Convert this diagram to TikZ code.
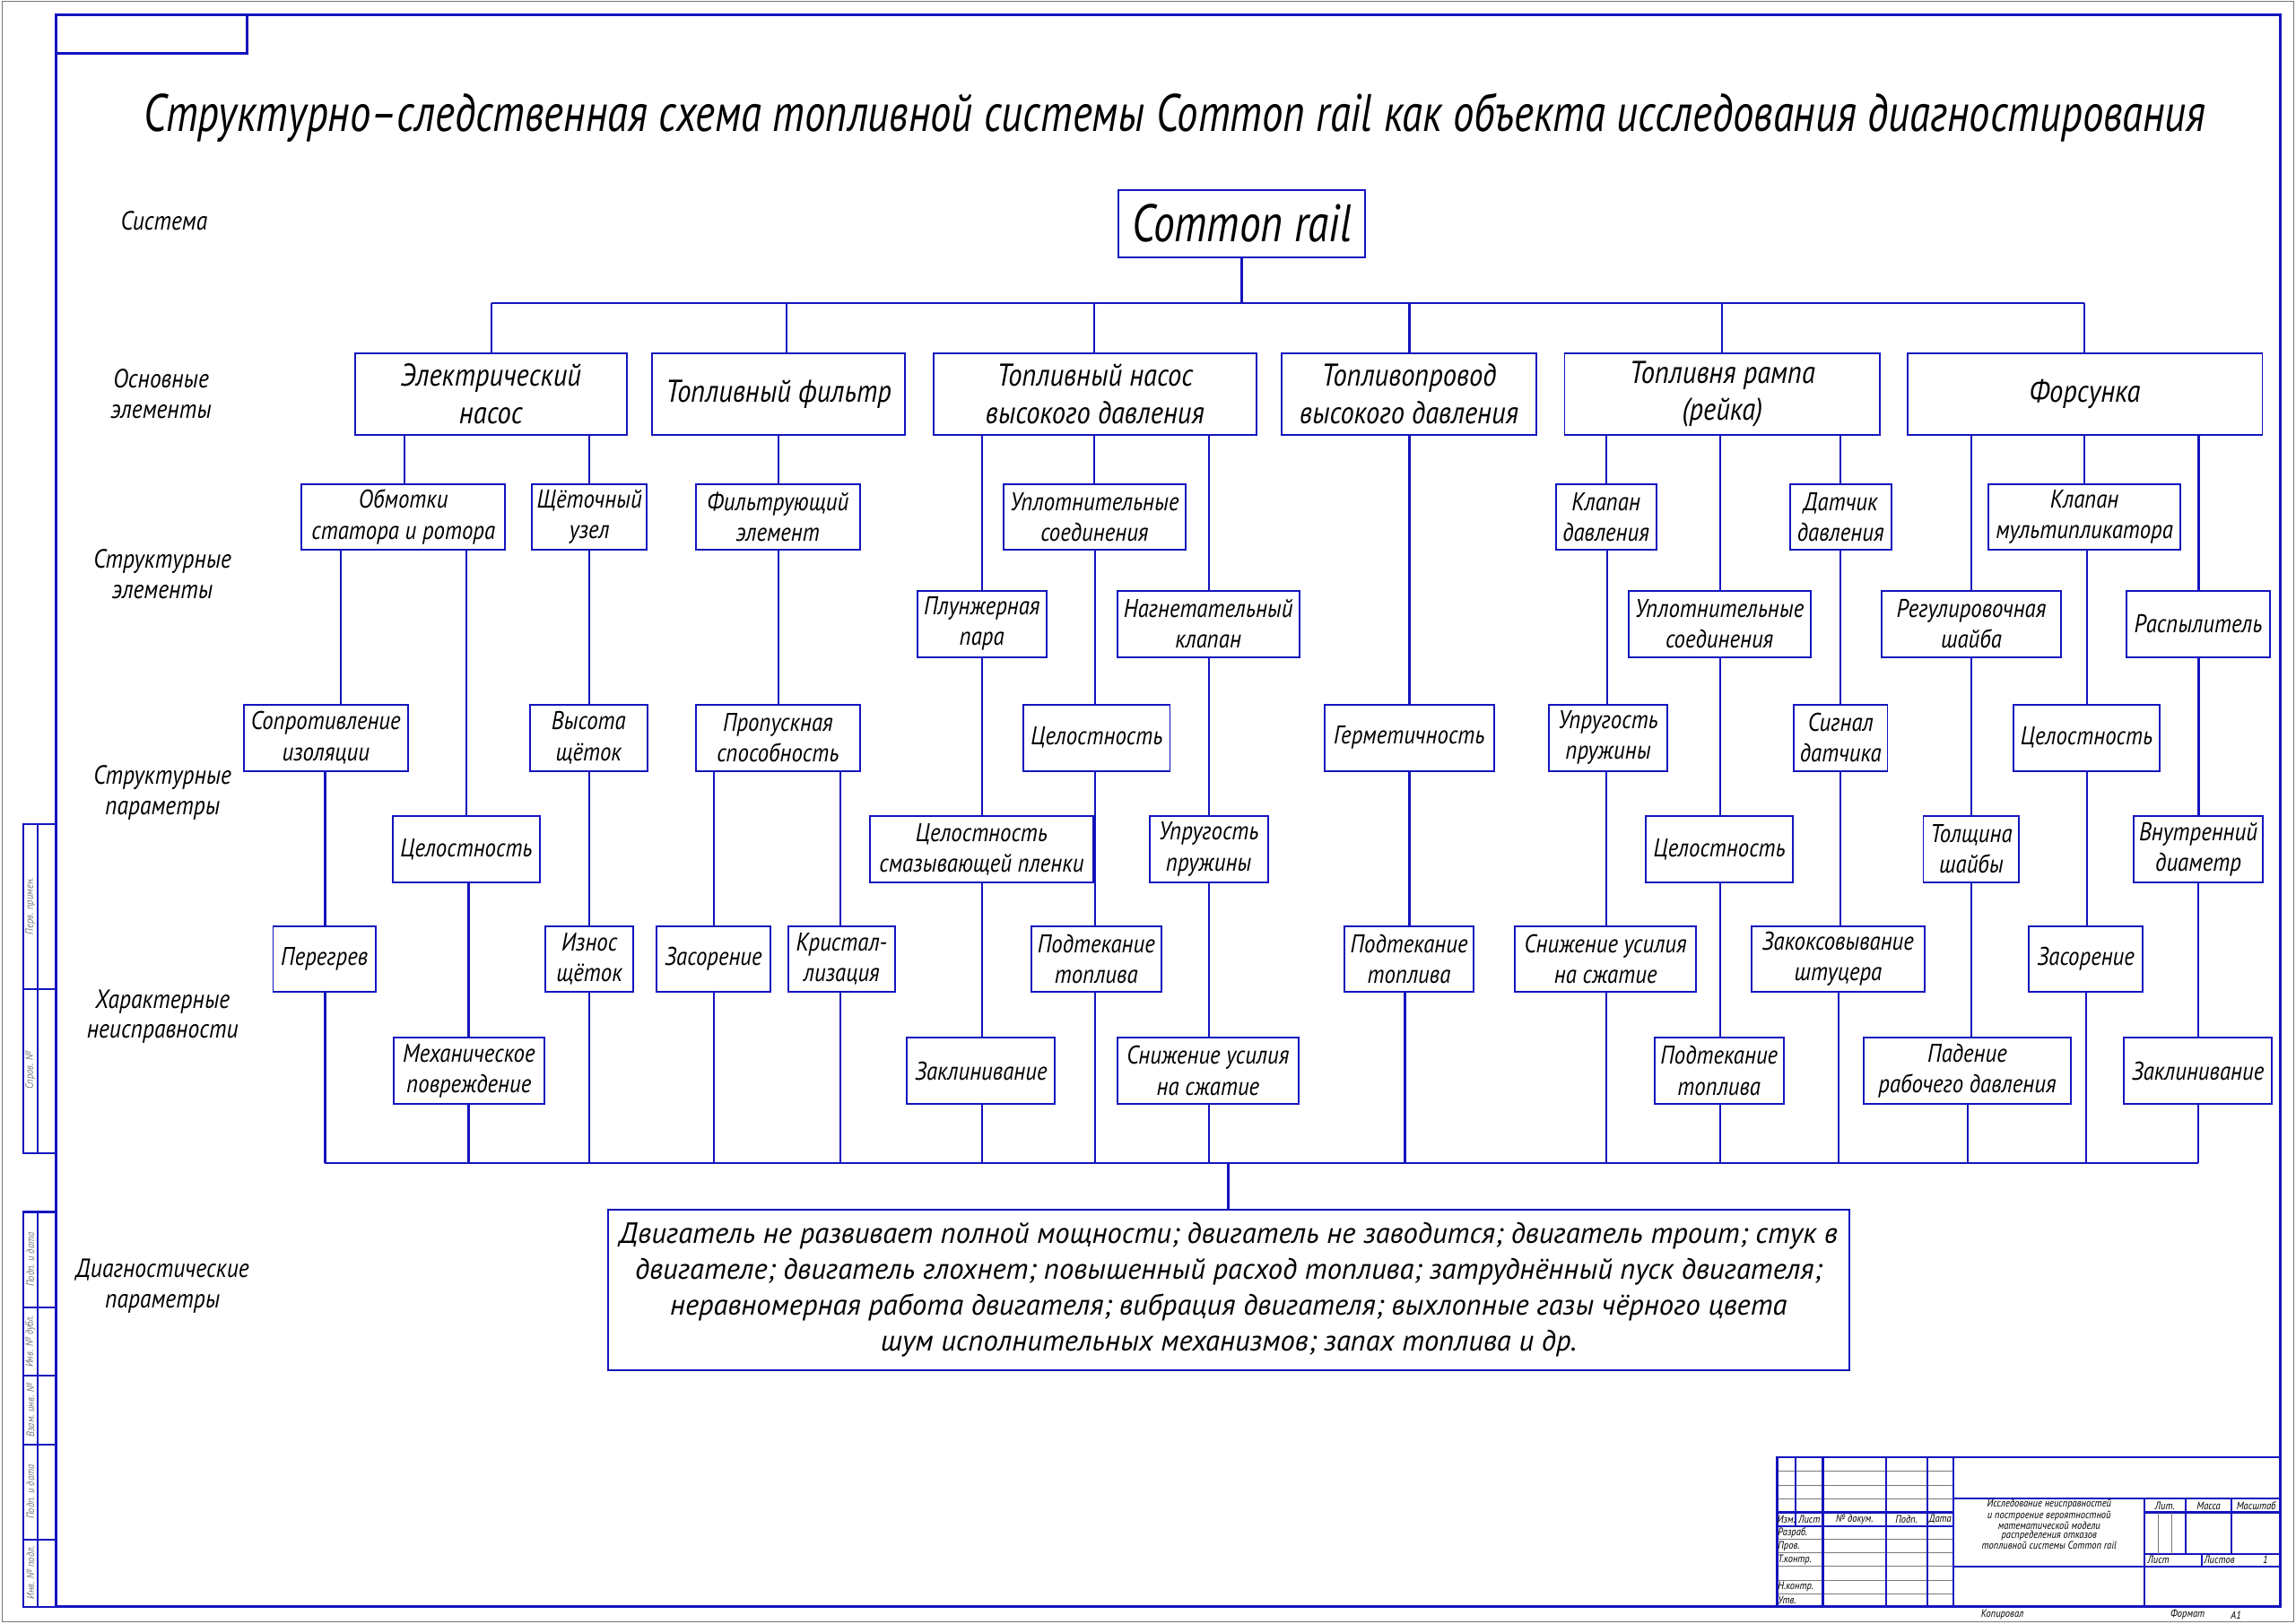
\documentclass[tikz,border=0pt]{standalone}
\usepackage{fontspec}
\setmainfont{PT Sans}
\newfontfamily\gostfont{PT Sans}[FakeStretch=0.87]
\usepackage{graphicx}
\definecolor{lb}{RGB}{20,20,190}
\definecolor{tg}{RGB}{120,120,120}
\newcommand{\cellfont}{\gostfont\fontsize{17.5}{21}\selectfont\itshape}
\newcommand{\mainelfont}{\gostfont\fontsize{21.5}{25.5}\selectfont\itshape}
\newcommand{\rowfont}{\gostfont\fontsize{18}{20.5}\selectfont\itshape}
\newcommand{\diagfont}{\fontsize{20}{24.5}\selectfont\itshape}
\newcommand{\tbfont}{\gostfont\fontsize{7.4}{5.8}\selectfont\itshape}
\newlength{\dgw}
\tikzset{
  cell/.style={draw=lb, line width=1.2pt, inner sep=0pt, align=center, font=\cellfont, fill=white},
  mainel/.style={font=\mainelfont},
  conn/.style={draw=lb, line width=1.3pt},
  frameline/.style={draw=lb, line width=1.8pt},
  tbthick/.style={draw=lb, line width=1.3pt},
  tbthin/.style={draw=tg, line width=0.6pt},
  rowlabel/.style={align=center, inner sep=0pt, font=\rowfont},
  tbtext/.style={inner sep=0pt, font=\tbfont},
  striptext/.style={inner sep=0pt, font=\tbfont, text=tg, rotate=90}
}
\newcommand{\bx}[7][]{%
  \pgfmathsetmacro{\cellw}{#5-#3}\pgfmathsetmacro{\cellh}{#6-#4}%
  \pgfmathsetmacro{\cellx}{(#3+#5)/2}\pgfmathsetmacro{\celly}{(#4+#6)/2}%
  \node[cell,#1,minimum width=\cellw pt,minimum height=\cellh pt] (#2) at (\cellx,\celly) {#7};}
\newcommand{\vc}[3]{\draw[conn] (#1.south -| #3,0) -- (#2.north -| #3,0);}
\newcommand{\vb}[2]{\draw[conn] (#1.south -| #2,0) -- (bbL -| #2,0);}
\begin{document}
\settowidth{\dgw}{\diagfont Двигатель не развивает полной мощности; двигатель не заводится; двигатель троит; стук в}%
\pgfmathsetmacro{\dgs}{832/\dgw}%
\begin{tikzpicture}[x=1pt,y=-1pt]
\useasboundingbox (0,0) rectangle (1568,1109);
\fill[white] (0,0) rectangle (1568,1109);
\draw[tg, line width=0.8pt] (1.5,1) rectangle (1566.5,1107.5);
% frame
\draw[frameline] (38.5,10.2) rectangle (1557.5,1097.5);
\draw[frameline] (38.5,36.3) -- (168.5,36.3) -- (168.5,10.2);
% left strip
\draw[tbthick] (16,563) rectangle (38.5,787.5);
\draw[tbthick] (16,675.5) -- (38.5,675.5);
\draw[tbthick] (25.5,563) -- (25.5,787.5);
\draw[tbthick] (16,827.8) rectangle (38.5,1097.5);
\foreach \yy in {892.8,939.7,986.5,1051.4} \draw[tbthick] (16,\yy) -- (38.5,\yy);
\draw[tbthick] (25.5,827.8) -- (25.5,1097.5);
\node[striptext] (s1) at (20.7,619) {Перв. примен.};
\node[striptext] (s2) at (20.7,731) {Справ. №};
\node[striptext] (s3) at (20.7,860.3) {Подп. и дата};
\node[striptext] (s4) at (20.7,916.2) {Инв. № дубл.};
\node[striptext] (s5) at (20.7,963.1) {Взам. инв. №};
\node[striptext] (s6) at (20.7,1019) {Подп. и дата};
\node[striptext] (s7) at (20.7,1074.4) {Инв. № подл.};
% title
\node[anchor=base, inner sep=0pt] (title) at (802.5,89.8) {\resizebox{1408pt}{\height}{\fontsize{36}{40}\selectfont\itshape Структурно–следственная схема топливной системы Common rail как объекта исследования диагностирования}};
% row labels
\node[rowlabel] (l1) at (112,151) {Система};
\node[rowlabel] (l2) at (110,269) {Основные\\элементы};
\node[rowlabel] (l3) at (111,392) {Структурные\\элементы};
\node[rowlabel] (l4) at (111,541.5) {Структурные\\параметры};
\node[rowlabel] (l5) at (111,694.5) {Характерные\\неисправности};
\node[rowlabel] (l6) at (111,878.5) {Диагностические\\параметры};
% system
\bx{cr}{764}{129.6}{932}{175.6}{\resizebox{150pt}{\height}{\fontsize{36}{40}\selectfont\itshape Common rail}}
% main elements
\bx[mainel]{en}{242.5}{241.1}{428}{297.3}{Электрический\\насос}
\bx[mainel]{fil}{445.5}{241.1}{618}{297.3}{Топливный фильтр}
\bx[mainel]{tnvd}{637.5}{241.1}{858}{297.3}{Топливный насос\\высокого давления}
\bx[mainel]{tp}{875.5}{241.1}{1049}{297.3}{Топливопровод\\высокого давления}
\bx[mainel]{ramp}{1068.5}{241.1}{1284}{297.3}{Топливня рампа\\(рейка)}
\bx[mainel]{fors}{1302.5}{241.1}{1545}{297.3}{Форсунка}
% row A
\bx{obm}{206}{330.6}{345}{375.6}{Обмотки\\статора и ротора}
\bx{shch}{363.5}{330.6}{441.5}{375.6}{Щёточный\\узел}
\bx{filel}{475}{330.6}{587.5}{375.6}{Фильтрующий\\элемент}
\bx{uplA}{685.3}{330.6}{809.7}{375.6}{Уплотнительные\\соединения}
\bx{klapd}{1062.5}{330.6}{1131}{375.6}{Клапан\\давления}
\bx{datch}{1222.5}{330.6}{1291.5}{375.6}{Датчик\\давления}
\bx{klapm}{1358}{330.6}{1489}{375.6}{Клапан\\мультипликатора}
% row B
\bx{plun}{626.6}{403.5}{714.5}{448.7}{Плунжерная\\пара}
\bx{nagn}{763}{403.5}{887.3}{448.7}{Нагнетательный\\клапан}
\bx{uplB}{1112}{403.5}{1236.5}{448.7}{Уплотнительные\\соединения}
\bx{reg}{1285}{403.5}{1407.5}{448.7}{Регулировочная\\шайба}
\bx{rasp}{1452.5}{403.5}{1550}{448.7}{Распылитель}
% row C
\bx{sopr}{166.5}{481.2}{278.5}{526.6}{Сопротивление\\изоляции}
\bx{vys}{362}{481.2}{442}{526.6}{Высота\\щёток}
\bx{prop}{475}{481.2}{587.5}{526.6}{Пропускная\\способность}
\bx{celA}{699}{481.2}{799}{526.6}{Целостность}
\bx{germ}{904.5}{481.2}{1020.4}{526.6}{Герметичность}
\bx{uprB}{1058}{481.2}{1138.5}{526.6}{Упругость\\пружины}
\bx{sign}{1225}{481.2}{1289}{526.6}{Сигнал\\датчика}
\bx{celF}{1375}{481.2}{1475}{526.6}{Целостность}
% row D
\bx{celE}{268}{557.5}{369}{602.5}{Целостность}
\bx{celpl}{594.2}{557.5}{746.5}{602.5}{Целостность\\смазывающей пленки}
\bx{uprA}{785}{557.5}{866}{602.5}{Упругость\\пружины}
\bx{celB}{1124}{557.5}{1224.5}{602.5}{Целостность}
\bx{tolsh}{1313.5}{557.5}{1379}{602.5}{Толщина\\шайбы}
\bx{vnutr}{1457}{557.5}{1545.5}{602.5}{Внутренний\\диаметр}
% row E
\bx{pereg}{186.5}{632.5}{256.5}{677.5}{Перегрев}
\bx{izn}{372.5}{632.5}{432.5}{677.5}{Износ\\щёток}
\bx{zas1}{448.5}{632.5}{526}{677.5}{Засорение}
\bx{krist}{538.5}{632.5}{611}{677.5}{Кристал-\\лизация}
\bx{podt1}{704.3}{632.5}{793}{677.5}{Подтекание\\топлива}
\bx{podt2}{918}{632.5}{1006.5}{677.5}{Подтекание\\топлива}
\bx{snizh2}{1034.5}{632.5}{1158.5}{677.5}{Снижение усилия\\на сжатие}
\bx{zakoks}{1196}{632.5}{1314.5}{677.5}{Закоксовывание\\штуцера}
\bx{zas2}{1385.5}{632.5}{1463.5}{677.5}{Засорение}
% row F
\bx{mech}{269}{708.7}{371.5}{754}{Механическое\\повреждение}
\bx{zakl1}{619.5}{708.7}{720.5}{754}{Заклинивание}
\bx{snizh1}{763}{708.7}{887}{754}{Снижение усилия\\на сжатие}
\bx{podt3}{1130}{708.7}{1218}{754}{Подтекание\\топлива}
\bx{pad}{1272.5}{708.7}{1414.5}{754}{Падение\\рабочего давления}
\bx{zakl2}{1450.5}{708.7}{1551.5}{754}{Заклинивание}
% diagnostic box
\node[cell, font=\diagfont, minimum width=848pt, minimum height=109.2pt] (diag) at (839,881) {%
\scalebox{\dgs}[1]{Двигатель не развивает полной мощности; двигатель не заводится; двигатель троит; стук в}\\
\scalebox{\dgs}[1]{двигателе; двигатель глохнет; повышенный расход топлива; затруднённый пуск двигателя;}\\
\scalebox{\dgs}[1]{неравномерная работа двигателя; вибрация двигателя; выхлопные газы чёрного цвета}\\
\scalebox{\dgs}[1]{шум исполнительных механизмов; запах топлива и др.}};
% top bus
\coordinate (busL) at (335.5,207.2);
\coordinate (busR) at (1423.5,207.2);
\draw[conn] (cr.south) -- (cr.south |- busL);
\draw[conn] (busL) -- (busR);
\draw[conn] (busL) -- (en.north -| busL);
\draw[conn] (busL -| 537,0) -- (fil.north -| 537,0);
\draw[conn] (busL -| 747.5,0) -- (tnvd.north -| 747.5,0);
\draw[conn] (busL -| 962.5,0) -- (tp.north -| 962.5,0);
\draw[conn] (busL -| 1176,0) -- (ramp.north -| 1176,0);
\draw[conn] (busR) -- (fors.north -| busR);
% main -> structural
\vc{en}{obm}{276}
\vc{en}{shch}{402.5}
\vc{fil}{filel}{531.5}
\vc{tnvd}{plun}{670.5}
\vc{tnvd}{uplA}{747.5}
\vc{tnvd}{nagn}{825.6}
\vc{tp}{germ}{962.5}
\vc{ramp}{klapd}{1097}
\vc{ramp}{uplB}{1174.5}
\vc{ramp}{datch}{1257}
\vc{fors}{reg}{1346.5}
\vc{fors}{klapm}{1423.5}
\vc{fors}{rasp}{1501.5}
% structural -> parameters
\vc{obm}{sopr}{232.5}
\vc{obm}{celE}{318.5}
\vc{shch}{vys}{402.5}
\vc{filel}{prop}{531.5}
\vc{uplA}{celA}{748}
\vc{plun}{celpl}{670.5}
\vc{nagn}{uprA}{825.6}
\vc{klapd}{uprB}{1097.5}
\vc{datch}{sign}{1257}
\vc{uplB}{celB}{1174.5}
\vc{klapm}{celF}{1425}
\vc{reg}{tolsh}{1346.5}
\vc{rasp}{vnutr}{1501.5}
% parameters -> faults
\vc{sopr}{pereg}{222}
\vc{celE}{mech}{320}
\vc{vys}{izn}{402.5}
\vc{prop}{zas1}{487.5}
\vc{prop}{krist}{574}
\vc{celA}{podt1}{748}
\vc{celpl}{zakl1}{670.5}
\vc{uprA}{snizh1}{825.6}
\vc{germ}{podt2}{962.5}
\vc{uprB}{snizh2}{1097}
\vc{sign}{zakoks}{1257}
\vc{celB}{podt3}{1174.5}
\vc{tolsh}{pad}{1346}
\vc{celF}{zas2}{1425}
\vc{vnutr}{zakl2}{1501}
% bottom bus
\coordinate (bbL) at (222,794.3);
\coordinate (bbR) at (1501,794.3);
\draw[conn] (bbL) -- (bbR);
\vb{pereg}{222}
\vb{mech}{320}
\vb{izn}{402.5}
\vb{zas1}{487.5}
\vb{krist}{574}
\vb{zakl1}{670.5}
\vb{podt1}{748}
\vb{snizh1}{825.6}
\vb{podt2}{959.5}
\vb{snizh2}{1097}
\vb{podt3}{1174.5}
\vb{zakoks}{1255.5}
\vb{pad}{1344}
\vb{zas2}{1424.5}
\vb{zakl2}{1501}
\draw[conn] (bbL -| 838.8,0) -- (diag.north -| 838.8,0);
% title block
\foreach \yy in {1004.9,1014.3,1023.7,1051.6,1060.8,1069.8,1079.3,1088.5} \draw[tbthin] (1213.5,\yy) -- (1334.1,\yy);
\draw[tbthick] (1213.5,1033) -- (1334.1,1033);
\draw[tbthick] (1213.5,1042.2) -- (1334.1,1042.2);
\draw[tbthick] (1226.4,995.3) -- (1226.4,1042.2);
\foreach \xx in {1244.9,1288,1316,1334.1} \draw[tbthick] (\xx,995.3) -- (\xx,1097.5);
\draw[tbthick] (1334.1,1023.7) -- (1557.5,1023.7);
\draw[tbthick] (1334.1,1069.8) -- (1557.5,1069.8);
\draw[tbthick] (1464.6,1023.7) -- (1464.6,1097.5);
\draw[tbthick] (1464.6,1033) -- (1557.5,1033);
\draw[tbthick] (1464.6,1061.2) -- (1557.5,1061.2);
\draw[tbthick] (1492.4,1023.7) -- (1492.4,1061.2);
\draw[tbthick] (1524.1,1023.7) -- (1524.1,1061.2);
\draw[tbthin] (1473.8,1033) -- (1473.8,1061.2);
\draw[tbthin] (1483.4,1033) -- (1483.4,1061.2);
\draw[tbthick] (1503.5,1061.2) -- (1503.5,1069.8);
\draw[frameline] (1213.5,1097.5) -- (1213.5,995.3) -- (1557.5,995.3);
\node[tbtext] (t1) at (1220,1037.6) {Изм.};
\node[tbtext] (t2) at (1235.6,1037.6) {Лист};
\node[tbtext] (t3) at (1266.5,1037.6) {№ докум.};
\node[tbtext] (t4) at (1302,1037.6) {Подп.};
\node[tbtext] (t5) at (1325,1037.6) {Дата};
\node[tbtext, anchor=west] (t6) at (1214,1046.9) {Разраб.};
\node[tbtext, anchor=west] (t7) at (1214,1056.2) {Пров.};
\node[tbtext, anchor=west] (t8) at (1214,1065.3) {Т.контр.};
\node[tbtext, anchor=west] (t9) at (1214,1083.9) {Н.контр.};
\node[tbtext, anchor=west] (t10) at (1214,1093) {Утв.};
\node[tbtext, align=center] (t11) at (1399.4,1041.2) {Исследование неисправностей\\и построение вероятностной\\математической модели\\распределения отказов\\топливной системы Common rail};
\node[tbtext] (t12) at (1478.5,1028.3) {Лит.};
\node[tbtext] (t13) at (1508.3,1028.3) {Масса};
\node[tbtext] (t14) at (1540.8,1028.3) {Масштаб};
\node[tbtext, anchor=west] (t15) at (1466.5,1065.5) {Лист};
\node[tbtext, anchor=west] (t16) at (1505,1065.5) {Листов};
\node[tbtext] (t17) at (1547,1065.5) {1};
\node[tbtext] (t18) at (1367.4,1103) {Копировал};
\node[tbtext] (t19) at (1494,1103) {Формат};
\node[tbtext] (t20) at (1527,1103) {А1};
\end{tikzpicture}
\end{document}
